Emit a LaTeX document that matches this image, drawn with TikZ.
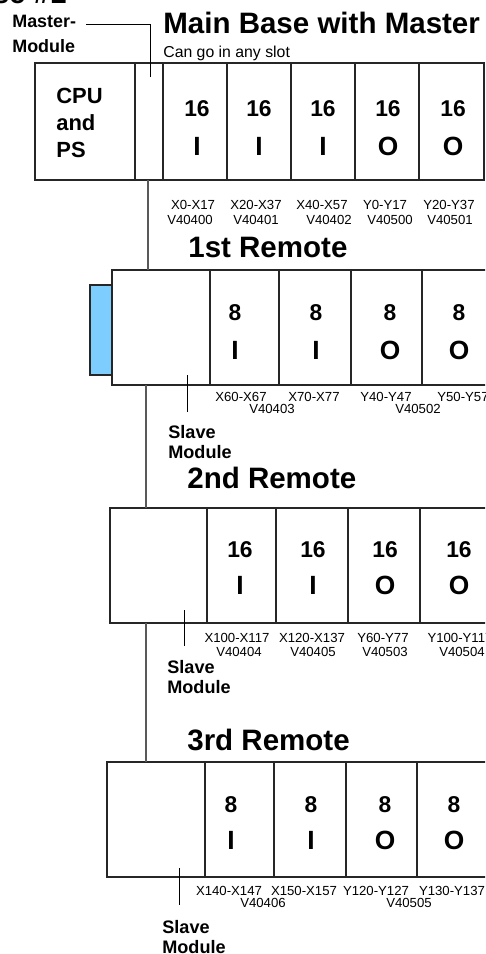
\documentclass[tikz,border=0pt]{standalone}
\usepackage{fontspec}
\setmainfont{Liberation Sans}
\definecolor{tabblue}{RGB}{125,205,255}
\tikzset{
  ioframe/.style={draw=black!85, line width=0.6pt},
  iocable/.style={draw=black!65, line width=0.9pt},
  iopointer/.style={draw, line width=0.5pt},
  iocount/.style={font=\bfseries\fontsize{13}{13}\selectfont, inner sep=0pt},
  iotype/.style={font=\bfseries\fontsize{15}{15}\selectfont, inner sep=0pt},
  ioaddr/.style={font=\fontsize{7.5}{7.5}\selectfont, inner sep=0pt},
  iotitle/.style={anchor=base west, inner sep=0pt,
                  font=\bfseries\fontsize{16.8}{16.8}\selectfont},
  iocallout/.style={anchor=north west, align=left, inner sep=0pt,
                    font=\bfseries\fontsize{10.3}{11.3}\selectfont}
}

\begin{document}
\begin{tikzpicture}[
    x=0.02cm, y=-0.02cm,
    % One unit is one pixel of the page, counted down from the top.
    cpu/.style={iocallout, font=\bfseries\fontsize{12.5}{15.2}\selectfont},
    note/.style={anchor=base west, inner sep=0pt, font=\fontsize{9}{9}\selectfont}
]
  \clip (0,0) rectangle (485,954);

  % The main base: CPU, master slot and five I/O slots.
  \node[iotitle, anchor=base east] (basenum) at (67,3) {Base \#1};
  \node[iotitle] (t0) at (163,33) {Main Base with Master};
  \node[note] (anyslot) at (163,57) {Can go in any slot};
  \node[iocallout, font=\bfseries\fontsize{10.2}{14}\selectfont] (master) at (12,15)
    {Master-\\Module};
  \draw[ioframe] (35,63) rectangle (484,180);
  \foreach \x in {135,163,227,291,355,419} {
    \draw[ioframe] (\x,63) -- (\x,180);
  }
  \node[cpu] (cpu) at (56,88) {CPU\\and\\PS};
  \foreach \x/\t [count=\i] in {197/I,259/I,323/I,388/O,453/O} {
    \node[iocount] (bn\i) at (\x,109) {16};
    \node[iotype]  (bt\i) at (\x,146) {\t};
  }
  \foreach \x/\y/\a [count=\i] in {193/205/X0-X17, 256/205/X20-X37,
      322/205/X40-X57, 385/205/Y0-Y17, 449/205/Y20-Y37, 190/220/V40400,
      256/220/V40401, 329/220/V40402, 390/220/V40500, 450/220/V40501} {
    \node[ioaddr] (ba\i) at (\x,\y) {\a};
  }
  \coordinate (master-from) at (86,24);
  \coordinate (master-tip) at (150,77);
  \draw[iopointer] (master-from) -| (master-tip);

  % 1st remote, with the blue tab on its left end.
  \node[iotitle] (t1) at (188,257) {1st Remote};
  \draw[ioframe, fill=tabblue] (90,285) rectangle (112,375);
  \draw[ioframe] (112,270) rectangle (500,385);
  \foreach \x in {210,279,351,422} {
    \draw[ioframe] (\x,270) -- (\x,385);
  }
  \foreach \x/\t [count=\i] in {235/I,316/I,390/O,459/O} {
    \node[iocount] (an\i) at (\x,313) {8};
    \node[iotype]  (at\i) at (\x,350) {\t};
  }
  \foreach \x/\y/\a [count=\i] in {241/397/X60-X67, 314/397/X70-X77,
      386/397/Y40-Y47, 463/397/Y50-Y57, 272/409/V40403, 418/409/V40502} {
    \node[ioaddr] (aa\i) at (\x,\y) {\a};
  }
  \node[iocallout] (slave1) at (168,425) {Slave\\Module};
  \coordinate (s1-tip) at (187,375);
  \coordinate (s1-end) at (187,412);
  \draw[iopointer] (s1-tip) -- (s1-end);

  % 2nd remote.
  \node[iotitle] (t2) at (187,488) {2nd Remote};
  \draw[ioframe] (110,508) rectangle (500,623);
  \foreach \x in {207,276,348,420} {
    \draw[ioframe] (\x,508) -- (\x,623);
  }
  \foreach \x/\t [count=\i] in {240/I,313/I,385/O,459/O} {
    \node[iocount] (cn\i) at (\x,550) {16};
    \node[iotype]  (ct\i) at (\x,585) {\t};
  }
  \foreach \x/\y/\a [count=\i] in {237/638/X100-X117, 312/638/X120-X137,
      383/638/Y60-Y77, 460/638/Y100-Y117, 239/652/V40404, 313/652/V40405,
      385/652/V40503, 462/652/V40504} {
    \node[ioaddr] (ca\i) at (\x,\y) {\a};
  }
  \node[iocallout] (slave2) at (167,660) {Slave\\Module};
  \coordinate (s2-tip) at (184,610);
  \coordinate (s2-end) at (184,646);
  \draw[iopointer] (s2-tip) -- (s2-end);

  % 3rd remote.
  \node[iotitle] (t3) at (187,750) {3rd Remote};
  \draw[ioframe] (107,762) rectangle (500,877);
  \foreach \x in {205,274,346,417} {
    \draw[ioframe] (\x,762) -- (\x,877);
  }
  \foreach \x/\t [count=\i] in {231/I,311/I,385/O,454/O} {
    \node[iocount] (dn\i) at (\x,805) {8};
    \node[iotype]  (dt\i) at (\x,840) {\t};
  }
  \foreach \x/\y/\a [count=\i] in {229/891/X140-X147, 304/891/X150-X157,
      376/891/Y120-Y127, 452/891/Y130-Y137, 263/903/V40406, 409/903/V40505} {
    \node[ioaddr] (da\i) at (\x,\y) {\a};
  }
  \node[iocallout] (slave3) at (162,920) {Slave\\Module};
  \coordinate (s3-tip) at (179,868);
  \coordinate (s3-end) at (179,905);
  \draw[iopointer] (s3-tip) -- (s3-end);

  % The cable that links the bases.
  \coordinate (base-out) at (148,180);
  \coordinate (r1-in) at (148,270);
  \coordinate (r1-out) at (146,385);
  \coordinate (r2-in) at (146,508);
  \coordinate (r2-out) at (146,623);
  \coordinate (r3-in) at (146,762);
  \draw[iocable] (base-out) -- (r1-in);
  \draw[iocable] (r1-out) -- (r2-in);
  \draw[iocable] (r2-out) -- (r3-in);
\end{tikzpicture}
\end{document}
